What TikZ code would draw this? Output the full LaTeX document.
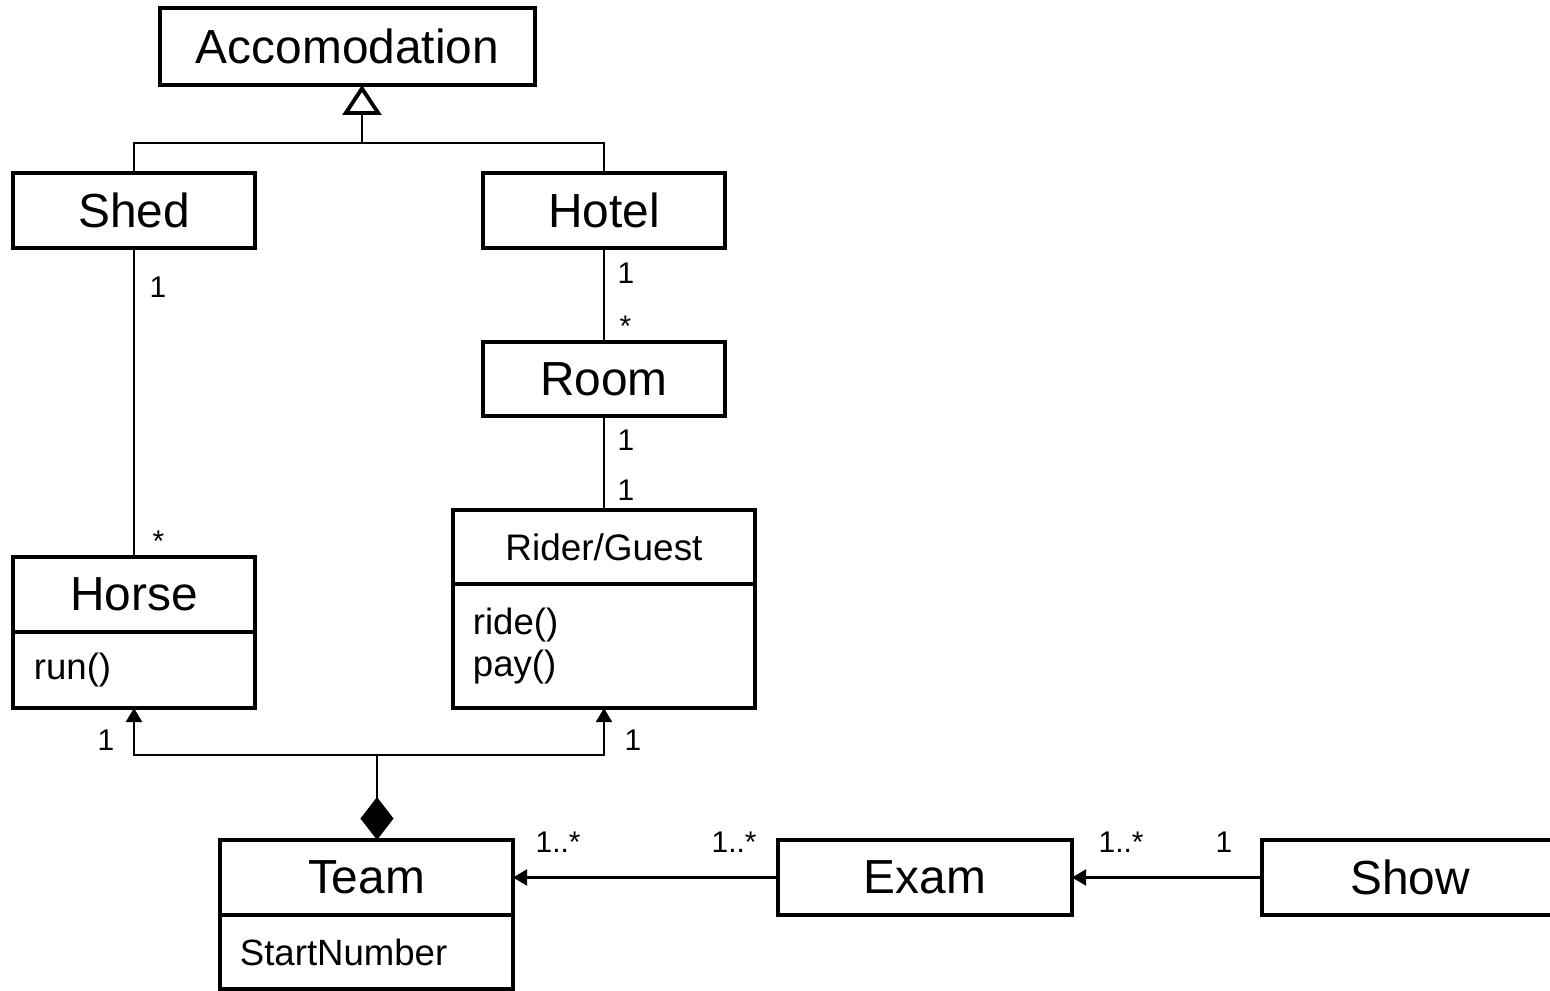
\documentclass[tikz,border=0pt]{standalone}
\usepackage{fontspec}
\setmainfont{Liberation Sans}
\usetikzlibrary{positioning,arrows.meta}
\definecolor{umlline}{RGB}{0, 0, 0}
\definecolor{umlfill}{RGB}{255, 255, 255}

\tikzset{
  classbox/.style={draw=umlline, fill=umlfill, line width=1.1pt, inner sep=0pt, outer sep=0pt,
    font=\fontsize{13.6}{16}\selectfont},
  opsbox/.style={draw=umlline, fill=umlfill, line width=1.1pt, inner ysep=0pt, outer sep=0pt,
    align=left, font=\fontsize{10.4}{12}\selectfont},
  mult/.style={font=\fontsize{8.5}{10}\selectfont, inner sep=0pt, anchor=base west},
  assoc/.style={draw=umlline, line width=0.6pt},
  nav/.style={assoc, -{Triangle[length=4pt, width=4.6pt]}},
  gen/.style={assoc, -{Triangle[open, length=8.5pt, width=11pt, line width=1.1pt]}},
  comp/.style={assoc, -{Diamond[length=12.2pt, width=9.4pt]}}
}

\begin{document}
\begin{tikzpicture}[x=0.01cm, y=-0.01cm]
    \useasboundingbox[fill=white] (0,0) rectangle (1550,991);

    % Accomodation
    \node[classbox, minimum width=3.75cm, minimum height=0.77cm] (acc) at (347.5,46.5) {Accomodation};
    \node[classbox, minimum width=2.42cm, minimum height=0.75cm] (shed) at (134,210.5) {Shed};
    \node[classbox, minimum width=2.42cm, minimum height=0.75cm] (hotel) at (604,210.5) {Hotel};
    \node[classbox, minimum width=2.42cm, minimum height=0.74cm] (room) at (604,379) {Room};

    % Horse
    \node[classbox, minimum width=2.42cm, minimum height=0.75cm] (horse) at (134,594.5) {Horse};
    \node[opsbox, below=0pt of horse, text width=2.0cm, inner xsep=0.21cm, minimum height=0.76cm] (horse-ops) {run()};

    % Rider/Guest
    \node[classbox, font=\fontsize{10.5}{12}\selectfont, minimum width=3.02cm, minimum height=0.74cm] (rider) at (604,547) {Rider/Guest};
    \node[opsbox, below=0pt of rider, text width=2.62cm, inner xsep=0.2cm, minimum height=1.24cm] (rider-ops) {ride()\\pay()};

    % Team
    \node[classbox, minimum width=2.93cm, minimum height=0.75cm] (team) at (366.5,877.5) {Team};
    \node[opsbox, below=0pt of team, text width=2.53cm, inner xsep=0.2cm, minimum height=0.74cm] (team-attr) {StartNumber};

    % Exam, Show
    \node[classbox, minimum width=2.94cm, minimum height=0.75cm] (exam) at (925,877.5) {Exam};
    \node[classbox, minimum width=2.96cm, minimum height=0.75cm] (show) at (1410,877.5) {Show};

    % generalization
    \coordinate (gen-join) at (362,143);
    \draw[assoc] (shed.north) |- (gen-join) -| (hotel.north);
    \draw[gen] (gen-join) -- (gen-join |- acc.south);

    % associations
    \draw[assoc] (shed) -- (horse);
    \draw[assoc] (hotel) -- (room);
    \draw[assoc] (room) -- (rider);

    % composition
    \coordinate (agg-join) at (377,755);
    \draw[nav] (agg-join) -| (horse-ops.south);
    \draw[nav] (agg-join) -| (rider-ops.south);
    \draw[comp] (agg-join) -- (agg-join |- team.north);

    \draw[nav] (exam) -- (team);
    \draw[nav] (show) -- (exam);

    % multiplicities
    \node[mult] (m-shed) at (149,298) {1};
    \node[mult] (m-horse) at (152,552) {*};
    \node[mult] (m-hotel) at (617,284) {1};
    \node[mult] (m-room1) at (619,337) {*};
    \node[mult] (m-room2) at (617,451) {1};
    \node[mult] (m-rider1) at (617,501) {1};
    \node[mult] (m-horse2) at (97,751) {1};
    \node[mult] (m-rider2) at (624,751) {1};
    \node[mult] (m-team) at (535,853) {1..*};
    \node[mult] (m-exam1) at (711,853) {1..*};
    \node[mult] (m-exam2) at (1098,853) {1..*};
    \node[mult] (m-show) at (1215,853) {1};
\end{tikzpicture}
\end{document}
